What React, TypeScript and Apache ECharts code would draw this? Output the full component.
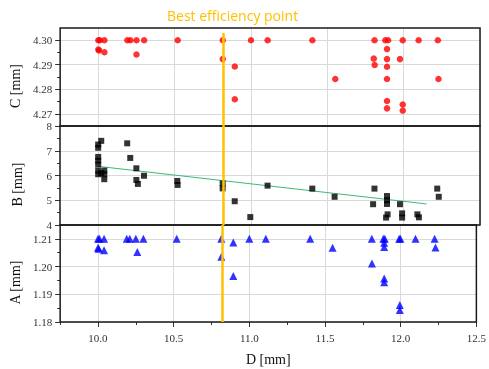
import React, { useEffect, useRef } from 'react';
import * as echarts from 'echarts';

// Shared x axis (D [mm])
const xTicks = [10.0, 10.5, 11.0, 11.5, 12.0, 12.5];
const xMinor = [9.75, 10.25, 10.75, 11.25, 11.75, 12.25];
const bestEfficiencyD = 10.82;
const bepTopC = 4.303;

// Top panel: C [mm]
const cTicks = [4.27, 4.28, 4.29, 4.3];
const cMinor = [4.275, 4.285, 4.295];
const dataC: [number, number][] = [
  [10.0, 4.3], [10.01, 4.3], [10.04, 4.3], [10.0, 4.2962], [10.005, 4.2958], [10.04, 4.2951],
  [10.19, 4.3], [10.21, 4.3], [10.25, 4.3], [10.3, 4.3], [10.25, 4.2942], [10.52, 4.3],
  [10.815, 4.3], [10.815, 4.2923], [10.894, 4.2893], [10.894, 4.2759], [11.0, 4.3],
  [11.109, 4.3], [11.402, 4.3], [11.809, 4.3], [11.88, 4.3], [11.898, 4.3], [11.994, 4.3],
  [12.098, 4.3], [12.224, 4.3], [11.891, 4.2964], [11.804, 4.2925], [11.891, 4.2923],
  [11.976, 4.2923], [11.81, 4.2899], [11.891, 4.2892], [11.552, 4.2842], [11.891, 4.2842],
  [12.228, 4.2842], [11.891, 4.2752], [11.891, 4.2722], [11.994, 4.2738], [11.994, 4.2713],
];

// Middle panel: B [mm]
const bTicks = [4, 5, 6, 7, 8];
const bMinor = [4.5, 5.5, 6.5, 7.5];
const dataB: [number, number][] = [
  [10.0, 7.12], [10.0, 7.25], [10.02, 7.4], [10.0, 6.75], [10.0, 6.6], [10.0, 6.45],
  [10.0, 6.2], [10.0, 6.05], [10.02, 6.1], [10.04, 6.2], [10.04, 6.05], [10.04, 5.85],
  [10.19, 7.3], [10.21, 6.71], [10.25, 6.29], [10.25, 5.82], [10.26, 5.66], [10.3, 5.99],
  [10.518, 5.78], [10.52, 5.62], [10.815, 5.68], [10.815, 5.48], [10.894, 4.96], [10.996, 4.32],
  [11.109, 5.59], [11.402, 5.47], [11.548, 5.14], [11.809, 5.47], [11.8, 4.84], [11.891, 5.17],
  [11.891, 5.0], [11.891, 4.85], [11.895, 4.43], [11.885, 4.3], [11.976, 4.84], [11.99, 4.47],
  [11.99, 4.3], [12.09, 4.43], [12.1, 4.31], [12.22, 5.47], [12.23, 5.14],
];
const trendB: [number, number][] = [[10.0, 6.37], [12.15, 4.85]];

// Bottom panel: A [mm]
const aTicks = [1.18, 1.19, 1.2, 1.21];
const aMinor = [1.185, 1.195, 1.205];
const dataA: [number, number][] = [
  [10.0, 1.21], [10.01, 1.21], [10.04, 1.21], [10.0, 1.2068], [10.005, 1.2064], [10.04, 1.2059],
  [10.19, 1.21], [10.21, 1.21], [10.25, 1.21], [10.3, 1.21], [10.26, 1.2053], [10.52, 1.21],
  [10.815, 1.21], [10.815, 1.2035], [10.894, 1.2087], [10.894, 1.1966], [11.0, 1.21],
  [11.109, 1.21], [11.402, 1.21], [11.55, 1.2068], [11.809, 1.21], [11.81, 1.2011],
  [11.885, 1.21], [11.895, 1.21], [11.891, 1.2086], [11.891, 1.2071], [11.99, 1.21], [11.998, 1.21],
  [12.098, 1.21], [12.224, 1.21], [12.23, 1.2069], [11.891, 1.1957], [11.891, 1.1943],
  [11.994, 1.1861], [11.994, 1.1843],
];

const SERIF = "'Liberation Serif', 'Times New Roman', serif";
const LABEL_COLOR = '#333';
const GRID_LINE = '#d9d9d9';

export default function App() {
  const ref = useRef<HTMLDivElement>(null);
  useEffect(() => {
    if (!ref.current) return;
    const chart = echarts.init(ref.current, undefined, { renderer: 'svg' });
    const grids = [
      { left: 60, right: 9, top: 28, height: 98 },
      { left: 60, right: 9, top: 126, height: 99 },
      { left: 60, right: 9, top: 225, height: 97 },
    ].map((g) => ({ ...g, show: true, z: 1, borderColor: '#1a1a1a', borderWidth: 1.5, backgroundColor: 'transparent' }));

    const mainX = [0, 1, 2].map((i) => ({
      type: 'value',
      gridIndex: i,
      min: 9.75,
      max: 12.5,
      position: 'bottom',
      axisLine: { show: false },
      axisTick: {
        show: i === 2,
        customValues: xTicks,
        length: 5,
        lineStyle: { color: '#333' },
      },
      axisLabel: {
        show: i === 2,
        customValues: xTicks,
        formatter: (v: number) => v.toFixed(1),
        fontFamily: SERIF,
        fontSize: 11,
        color: LABEL_COLOR,
        margin: 10,
      },
      splitLine: { show: true, lineStyle: { color: GRID_LINE, width: 1 } },
      name: i === 2 ? 'D [mm]' : '',
      nameLocation: 'middle',
      nameGap: 30,
      nameTextStyle: { fontFamily: SERIF, fontSize: 14, color: '#111' },
    }));
    const minorX = {
      type: 'value',
      gridIndex: 2,
      min: 9.75,
      max: 12.5,
      position: 'bottom',
      axisLine: { show: false },
      axisTick: { show: true, customValues: xMinor, length: 3, lineStyle: { color: '#333' } },
      axisLabel: { show: false },
      splitLine: { show: false },
    };

    const yDefs = [
      { min: 4.265, max: 4.305, ticks: cTicks, minor: cMinor, dec: 2, name: 'C [mm]' },
      { min: 4, max: 8, ticks: bTicks, minor: bMinor, dec: 0, name: 'B [mm]' },
      { min: 1.18, max: 1.215, ticks: aTicks, minor: aMinor, dec: 2, name: 'A [mm]' },
    ];
    const mainY = yDefs.map((d, i) => ({
      type: 'value',
      gridIndex: i,
      min: d.min,
      max: d.max,
      position: 'left',
      axisLine: { show: false },
      axisTick: { show: true, customValues: d.ticks, length: 5, lineStyle: { color: '#333' } },
      axisLabel: {
        customValues: d.ticks,
        formatter: (v: number) => v.toFixed(d.dec),
        fontFamily: SERIF,
        fontSize: 11,
        color: LABEL_COLOR,
        margin: 8,
      },
      splitLine: { show: true, lineStyle: { color: GRID_LINE, width: 1 } },
      name: d.name,
      nameLocation: 'middle',
      nameGap: 36,
      nameTextStyle: { fontFamily: SERIF, fontSize: 14, color: '#111', padding: [0, 18, 0, 0] },
    }));
    const minorY = yDefs.map((d, i) => ({
      type: 'value',
      gridIndex: i,
      min: d.min,
      max: d.max,
      position: 'left',
      axisLine: { show: false },
      axisTick: { show: true, customValues: d.minor, length: 3, lineStyle: { color: '#333' } },
      axisLabel: { show: false },
      splitLine: { show: false },
    }));

    const bepLine = (i: number) => ({
      type: 'line',
      xAxisIndex: i,
      yAxisIndex: i,
      data: [],
      z: 1,
      silent: true,
      markLine: {
        silent: true,
        symbol: 'none',
        label: { show: false },
        lineStyle: { color: '#FFC000', width: 2.5, type: 'solid' },
        data:
          i === 0
            ? [[{ coord: [bestEfficiencyD, bepTopC] }, { coord: [bestEfficiencyD, yDefs[0].min] }]]
            : [{ xAxis: bestEfficiencyD }],
      },
    });

    chart.setOption({
      animation: false,
      title: {
        text: 'Best efficiency point',
        left: 162,
        top: 3,
        textStyle: { color: '#FFC000', fontSize: 14, fontWeight: 'normal', fontFamily: "'Open Sans', 'Noto Sans', sans-serif" },
      },
      grid: grids,
      xAxis: [...mainX, minorX],
      yAxis: [...mainY, ...minorY],
      series: [
        bepLine(0),
        bepLine(1),
        bepLine(2),
        {
          type: 'scatter', xAxisIndex: 0, yAxisIndex: 0, data: dataC, symbol: 'circle', symbolSize: 6.5,
          itemStyle: { color: '#FF0000' }, z: 3,
        },
        {
          type: 'line', xAxisIndex: 1, yAxisIndex: 1, data: trendB, symbol: 'none',
          lineStyle: { color: '#3cb878', width: 1 }, z: 2,
        },
        {
          type: 'scatter', xAxisIndex: 1, yAxisIndex: 1, data: dataB, symbol: 'rect', symbolSize: 6,
          itemStyle: { color: '#000000' }, z: 3,
        },
        {
          type: 'scatter', xAxisIndex: 2, yAxisIndex: 2, data: dataA, symbol: 'triangle', symbolSize: 8,
          itemStyle: { color: '#0000FF' }, z: 3,
        },
      ],
    });
    return () => chart.dispose();
  }, []);
  return <div ref={ref} style={{ position: 'fixed', left: 0, top: 0, width: 489, height: 369 }} />;
}
